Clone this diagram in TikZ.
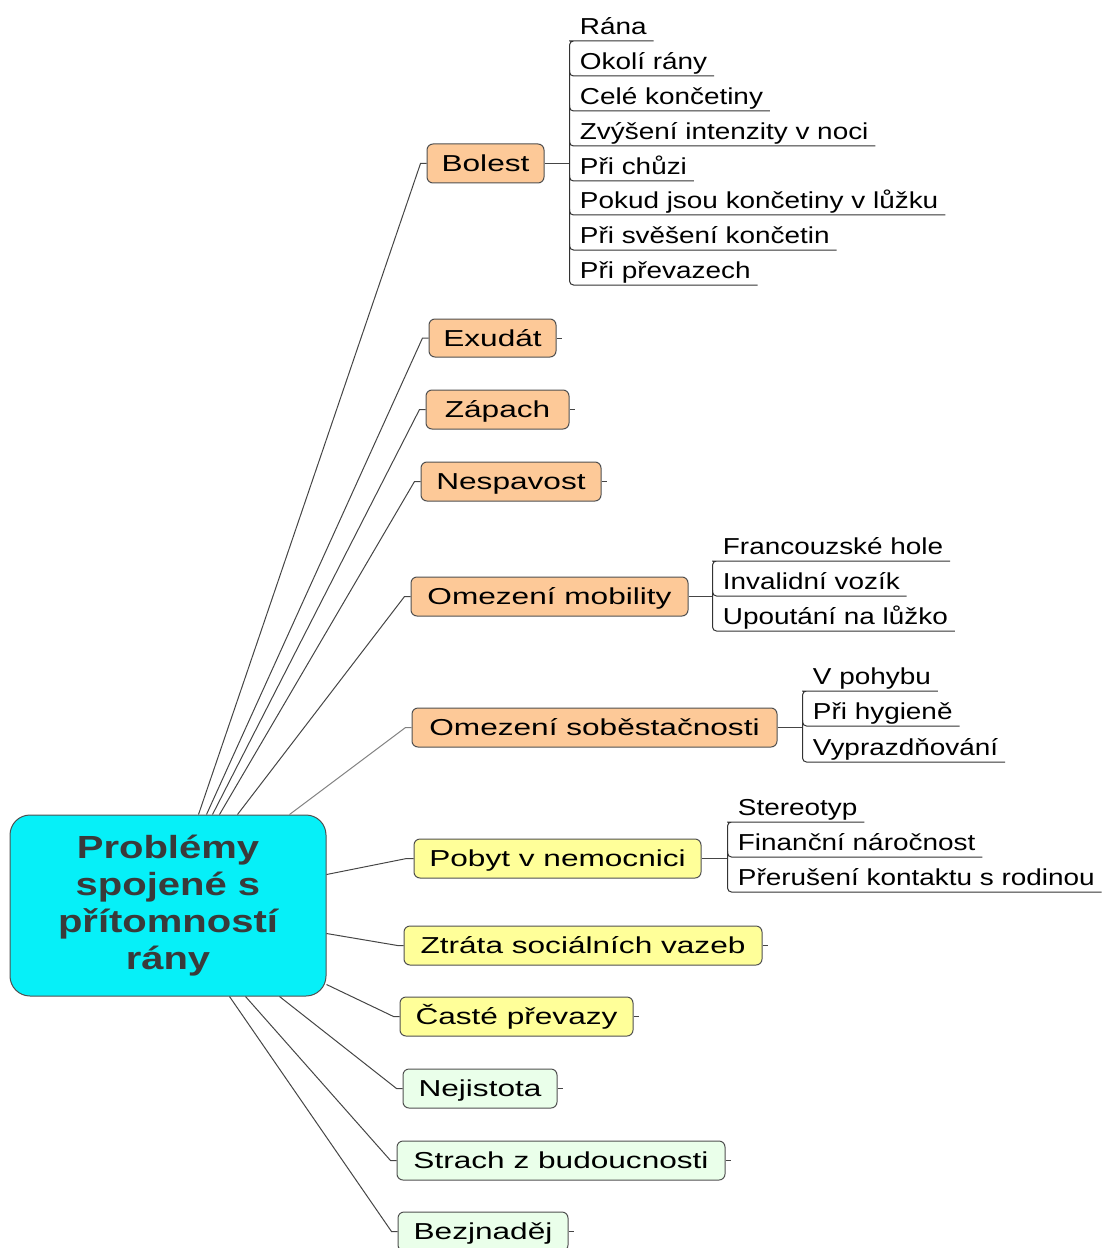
\documentclass[tikz,border=0pt]{standalone}
\usepackage{fontspec}
\setmainfont{Liberation Sans}
\newfontfamily\titlefont[FakeStretch=1.25]{Liberation Sans}
\newfontfamily\topicfont[FakeStretch=1.37]{Liberation Sans}
\newfontfamily\leaffont[FakeStretch=1.21]{Liberation Sans}
\usetikzlibrary{calc}
\definecolor{peach}{HTML}{FDC998}
\definecolor{lemon}{HTML}{FFFF99}
\definecolor{mint}{HTML}{EAFFEA}
\definecolor{aqua}{HTML}{06F0F8}
\definecolor{edge}{HTML}{505050}
\definecolor{linkgray}{HTML}{454545}
\definecolor{titlegray}{HTML}{3A3A3A}
\begin{document}
\begin{tikzpicture}[x=0.75pt,y=-0.75pt,
  link/.style={draw=linkgray, line width=0.75pt},
  dims/.style 2 args={minimum width=#1*0.75pt, minimum height=#2*0.75pt},
  topic/.style={draw=edge, line width=0.75pt, rounded corners=4.5pt, inner sep=0pt,
    text height=12.4pt, text depth=0pt,
    font=\topicfont\fontsize{17.3}{21}\selectfont},
  orange/.style={topic, fill=peach},
  yellow/.style={topic, fill=lemon},
  green/.style={topic, fill=mint},
  leaf/.style={anchor=south west, inner xsep=5pt, inner ysep=4.6pt, text depth=0pt,
    font=\leaffont\fontsize{17.3}{21}\selectfont},
  bracket/.style={link, draw=black!80, rounded corners=3pt}
]
\useasboundingbox (0,0) rectangle (1102,1248);

% central topic
\node[draw=edge, line width=0.75pt, fill=aqua, rounded corners=15pt, dims={316}{181},
  align=center, text=titlegray, font=\titlefont\fontsize{24}{27.75}\selectfont\bfseries]
  (c) at (168,905.5) {Problémy\\spojené s\\přítomností\\rány};

% main topics
\node[orange, dims={117}{39}] (bolest)    at (485.5,163.5) {Bolest};
\node[orange, dims={127}{38}] (exudat)    at (492.5,338)   {Exudát};
\node[orange, dims={143}{39}] (zapach)    at (497.5,409.5) {Zápach};
\node[orange, dims={180}{39}] (nespavost) at (511,481.5)   {Nespavost};
\node[orange, dims={277}{39}] (mobility)  at (549.5,596.5) {Omezení mobility};
\node[orange, dims={365}{39}] (sobest)    at (594.5,727.5) {Omezení soběstačnosti};
\node[yellow, dims={287}{39}] (pobyt)     at (557.5,858.5) {Pobyt v nemocnici};
\node[yellow, dims={358}{39}] (ztrata)    at (583,945.5)   {Ztráta sociálních vazeb};
\node[yellow, dims={233}{39}] (caste)     at (516.5,1016.5){Časté převazy};
\node[green,  dims={154}{39}] (nejistota) at (480,1088.5)  {Nejistota};
\node[green,  dims={328}{39}] (strach)    at (561,1160.5)  {Strach z budoucnosti};
\node[green,  dims={170}{39}] (bezn)      at (483,1231.5)  {Bezjnaděj};

% connectors from the central topic
\draw[link] ($(c.north west)+(189,0)$) -- ($(bolest.west)+(-6,0)$) -- (bolest.west);
\draw[link] ($(c.north west)+(197,0)$) -- ($(exudat.west)+(-6,0)$) -- (exudat.west);
\draw[link] ($(c.north west)+(203,0)$) -- ($(zapach.west)+(-6,0)$) -- (zapach.west);
\draw[link] ($(c.north west)+(210,0)$) -- ($(nespavost.west)+(-6,0)$) -- (nespavost.west);
\draw[link] ($(c.north west)+(228,0)$) -- ($(mobility.west)+(-6,0)$) -- (mobility.west);
\draw[link, draw=gray] ($(c.north west)+(280,0)$) -- ($(sobest.west)+(-6,0)$) -- (sobest.west);
\draw[link] ($(c.north east)+(0,60)$)  -- ($(pobyt.west)+(-7,0)$) -- (pobyt.west);
\draw[link] ($(c.north east)+(0,119)$) -- ($(ztrata.west)+(-6,0)$) -- (ztrata.west);
\draw[link] ($(c.north east)+(0,170)$) -- ($(caste.west)+(-6,0)$) -- (caste.west);
\draw[link] ($(c.south west)+(270,0)$) -- ($(nejistota.west)+(-6,0)$) -- (nejistota.west);
\draw[link] ($(c.south west)+(236,0)$) -- ($(strach.west)+(-6,0)$) -- (strach.west);
\draw[link] ($(c.south west)+(220,0)$) -- ($(bezn.west)+(-6,0)$) -- (bezn.west);

% stubs on topics without subtopics
\foreach \t in {exudat,zapach,nespavost,ztrata,caste,nejistota,strach,bezn}
  \draw[link] (\t.east) -- ++(5,0);

% --- Bolest subtopics
\coordinate (bB) at ($(bolest.east)+(25,0)$);
\draw[link] (bolest.east) -- (bB);
\node[leaf] (b1) at (573,41)  {Rána};
\node[leaf] (b2) at (573,76)  {Okolí rány};
\node[leaf] (b3) at (573,111) {Celé končetiny};
\node[leaf] (b4) at (573,146) {Zvýšení intenzity v noci};
\node[leaf] (b5) at (573,181) {Při chůzi};
\node[leaf] (b6) at (573,215) {Pokud jsou končetiny v lůžku};
\node[leaf] (b7) at (573,250) {Při svěšení končetin};
\node[leaf] (b8) at (573,285) {Při převazech};
\draw[bracket] (b1.south east) -- (b1.south west) -| (bB |- b8.south) -- (b8.south east);
\foreach \n in {b2,b3,b4,b5,b6,b7}
  \draw[bracket] ($(bB |- \n.south west)+(0,-6)$) |- (\n.south east);

% --- Omezení mobility subtopics
\coordinate (mB) at ($(mobility.east)+(24,0)$);
\draw[link] (mobility.east) -- (mB);
\node[leaf] (m1) at (716,561) {Francouzské hole};
\node[leaf] (m2) at (716,596) {Invalidní vozík};
\node[leaf] (m3) at (716,631) {Upoutání na lůžko};
\draw[bracket] (m1.south east) -- (m1.south west) -| (mB |- m3.south) -- (m3.south east);
\draw[bracket] ($(mB |- m2.south west)+(0,-6)$) |- (m2.south east);

% --- Omezení soběstačnosti subtopics
\coordinate (sB) at ($(sobest.east)+(25,0)$);
\draw[link] (sobest.east) -- (sB);
\node[leaf] (s1) at (806,691) {V pohybu};
\node[leaf] (s2) at (806,726) {Při hygieně};
\node[leaf] (s3) at (806,762) {Vyprazdňování};
\draw[bracket] (s1.south east) -- (s1.south west) -| (sB |- s3.south) -- (s3.south east);
\draw[bracket] ($(sB |- s2.south west)+(0,-6)$) |- (s2.south east);

% --- Pobyt v nemocnici subtopics
\coordinate (pB) at ($(pobyt.east)+(26,0)$);
\draw[link] (pobyt.east) -- (pB);
\node[leaf] (p1) at (731,822) {Stereotyp};
\node[leaf] (p2) at (731,857) {Finanční náročnost};
\node[leaf] (p3) at (731,892) {Přerušení kontaktu s rodinou};
\draw[bracket] (p1.south east) -- (p1.south west) -| (pB |- p3.south) -- (p3.south east);
\draw[bracket] ($(pB |- p2.south west)+(0,-6)$) |- (p2.south east);
\end{tikzpicture}
\end{document}
